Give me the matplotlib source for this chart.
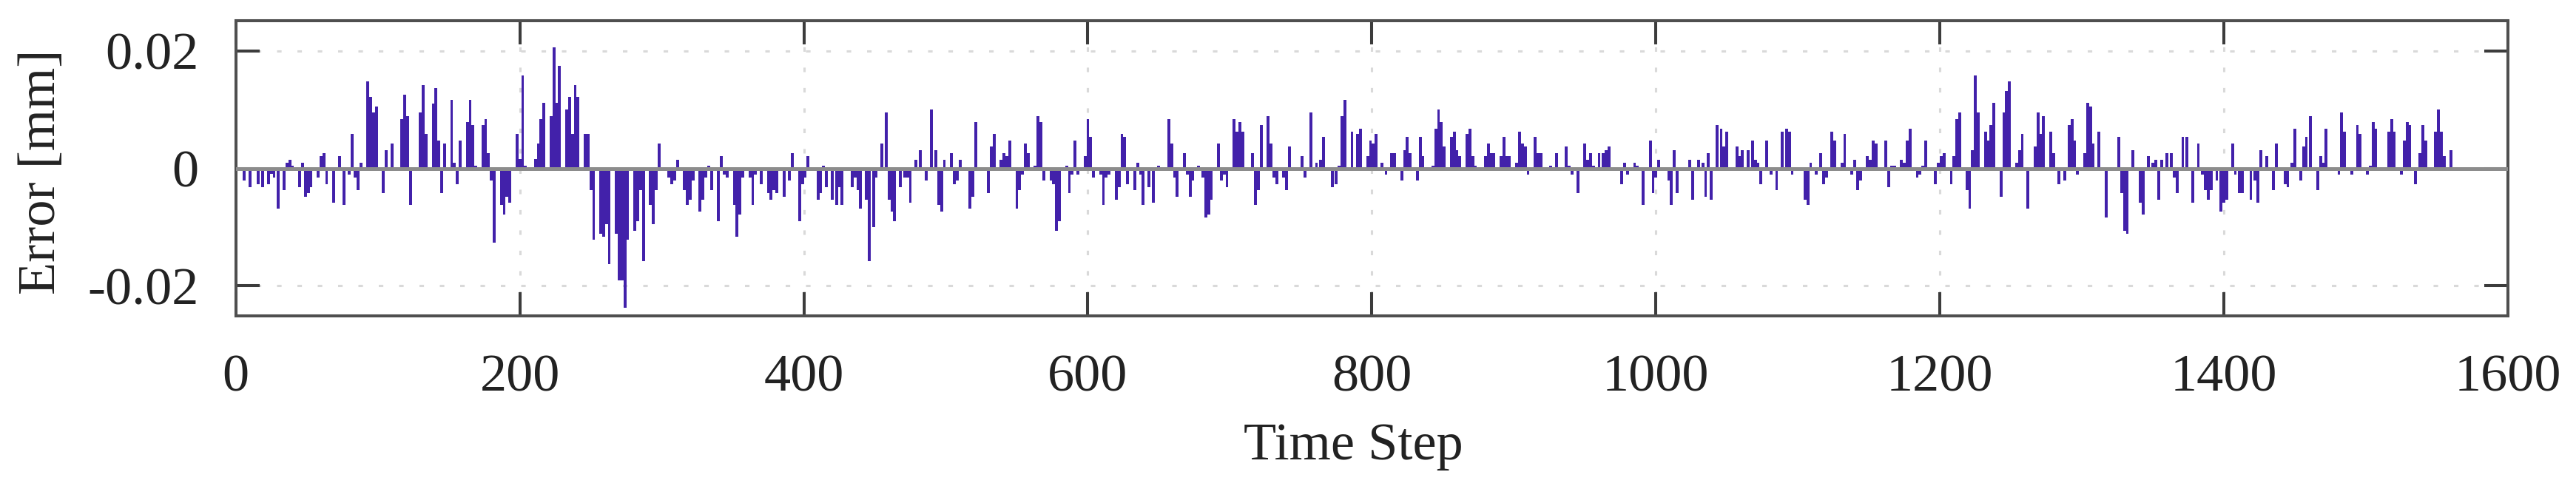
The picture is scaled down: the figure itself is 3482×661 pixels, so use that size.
import numpy as np
import matplotlib
matplotlib.use("Agg")
import matplotlib.pyplot as plt

# ---- data (error in micrometres) ----
time_step = [
    3, 6, 10, 16, 19, 23, 25, 27, 30, 34, 36, 38, 40, 45, 47, 49, 51, 53, 58, 60,
    62, 64, 69, 73, 76, 80, 82, 84, 86, 88, 93, 95, 97, 99, 104, 106, 110, 117, 119, 121,
    123, 128, 130, 132, 134, 139, 141, 143, 145, 147, 152, 154, 156, 158, 163, 165, 167,
    169, 174, 176, 178, 180, 182, 187, 189, 191, 193, 198, 200, 202, 204, 211, 213, 215, 217,
    222, 224, 226, 228, 233, 235, 237, 239, 241, 246, 248, 250, 252, 257, 259, 261, 263,
    268, 270, 272, 274, 276, 281, 283, 285, 287, 292, 294, 296, 298, 305, 307, 309, 311,
    316, 318, 320, 322, 327, 329,
    331, 333, 335, 340, 342, 344, 346, 351, 353, 355, 357, 362, 364, 366, 370, 375, 377, 379,
    381, 386, 390, 392, 397, 399, 401, 403, 405, 410, 412, 414, 416, 420, 423, 425, 427,
    434, 436, 438, 440, 444, 446, 449, 451, 455, 458, 460, 462, 464, 468, 471, 473, 475,
    479, 482, 484, 486, 490,
    493, 495, 497, 499, 504, 506, 508, 510, 517, 519, 521, 528, 530, 532, 534, 539, 541, 543,
    545, 550, 552, 554, 556, 558, 563, 565, 567, 569, 574, 576, 578, 580, 585, 587, 589, 591,
    593, 598, 600, 602, 604, 609, 611, 613, 615, 620, 622, 624, 626, 628, 633, 635, 637, 639,
    643, 646, 650,
    657, 659, 661, 663, 668, 670, 672, 674, 678, 681, 683, 685, 687, 692, 694, 696, 698, 703,
    705, 707, 709, 714, 716, 718, 720, 722, 727, 729, 731, 733, 738, 740, 742, 744, 751, 753,
    757, 761, 764, 766, 772, 775, 777, 779, 781, 786, 790, 792, 797, 799, 801, 803, 807, 810,
    814, 816, 821, 823, 825, 827, 832, 834, 836, 838, 843, 845, 847, 849, 851, 856, 858, 860,
    862, 867, 869, 871, 873, 880, 882, 884, 886, 891, 893, 895, 897, 902, 904, 906, 908, 910,
    915, 917, 919, 926, 930, 932, 937, 939, 941, 943, 945, 950, 952, 954, 956, 960, 963, 965,
    967, 974,
    976, 978, 980, 985, 987, 989, 991, 996, 998, 1000, 1002, 1009, 1011, 1013, 1015, 1020,
    1024, 1026, 1030, 1033, 1035, 1037, 1039, 1043, 1046, 1048, 1050, 1054, 1057, 1059, 1061,
    1065, 1068, 1070, 1072, 1074, 1078, 1081, 1085, 1089, 1092, 1094, 1096, 1105, 1107, 1109,
    1113, 1116, 1118, 1120, 1124, 1126, 1129, 1131, 1133,
    1138, 1140, 1142, 1144, 1149, 1151, 1153, 1155, 1162, 1164, 1166, 1168, 1173, 1175, 1177,
    1179, 1184, 1186, 1188, 1190, 1197, 1199, 1201, 1203, 1208, 1210, 1212, 1214, 1219, 1221,
    1223, 1225, 1227, 1232, 1234, 1236, 1238, 1243, 1245, 1247, 1249, 1254, 1256, 1258, 1262,
    1267, 1269, 1271, 1273, 1278, 1280, 1284, 1288, 1291, 1293, 1295, 1297,
    1302, 1304, 1306, 1308, 1312, 1315, 1317, 1326, 1328, 1330, 1332, 1336, 1341, 1343, 1347,
    1350, 1352, 1354, 1356, 1360, 1363, 1365, 1367, 1371, 1374, 1376, 1378, 1382, 1385, 1387,
    1389, 1391, 1395, 1398, 1400, 1402, 1406, 1408, 1411, 1413, 1419, 1422, 1424, 1426, 1430,
    1432, 1435, 1437, 1441, 1443, 1445, 1448, 1450, 1454, 1456, 1458,
    1461, 1466, 1468, 1470, 1472, 1476, 1479, 1481, 1483, 1485, 1490, 1492, 1494, 1496, 1501,
    1503, 1505, 1507, 1511, 1516, 1518, 1520, 1525, 1527, 1529, 1531, 1535, 1538, 1540, 1542,
    1549, 1551, 1553, 1555, 1560,
]

error_um = [
    -0.4, -2.1, -3.2, -2.65, -3.2, -2.65, -1.0, -1.6, -6.9, -3.7, 1.0, 1.5, 0.5, -3.2, 1.0, -4.8, -4.2, -3.2, -1.6, 2.1,
    2.6, -2.65, -5.8, 2.1, -6.3, -1.05, 5.8, -1.6, -3.7, 1.0, 14.8, 12.1, 9.5, 10.5, -4.2, 3.1, 4.2, 8.4, 12.6, 8.9,
    -6.3, -0.5, 9.5, 14.2, 5.8, 11.0, 13.7, 4.7, -4.2, 4.2, 11.6, 1.0, -2.65, 4.7, 7.9, 11.6, 7.4,
    0.5, 7.4, 8.4, 2.6, -2.1, -12.7, -6.3, -7.9, -4.8, -5.8, 5.8, 1.6, 15.8, 0.5, 1.6, 4.2, 8.4, 11.1,
    8.9, 20.6, 11.1, 17.4, 10.0, 12.1, 5.8, 14.2, 12.1, 5.8, 5.8, -3.7, -12.1, -11.1, -11.6, -9.5, -16.3,
    -11.1, -19.1, -19.1, -23.8, -12.1, -10.6, -9.0, -3.7, -15.8, -6.3, -9.5, -3.7, 4.2, -1.6, -2.65, -2.1, 1.5,
    -3.7, -6.3, -5.3, -2.1, -7.4, -5.3,
    -1.6, 0.5, -3.7, -9.0, 2.1, -1.05, -1.6, -6.3, -11.6, -7.9, -1.6, -1.6, -6.3, -1.05, -2.65, -4.2, -5.3, -3.7,
    -4.2, -4.8, -2.1, 2.6, -9.0, -2.65, -1.6, 2.1, -0.5, -5.3, -4.2, 0.5, -3.2, -5.3, -6.3, -3.2, -6.3,
    -3.2, -1.6, -3.7, -6.9, -5.3, -15.8, -10.0, -1.6, 4.2, 9.5, -5.3, -7.4, -9.0, -3.2, -1.6, -1.6, -5.8,
    1.5, 3.1, -0.5, -2.1, 10.0,
    3.1, -6.3, -7.4, 1.5, 2.6, -2.65, -2.1, 1.5, -6.9, -4.8, 7.9, -0.5, -4.2, 3.7, 5.8, 1.5, 2.6, 2.1,
    4.7, -6.9, -3.7, -1.05, 4.2, 2.6, 0.5, 8.9, 7.9, -2.1, -2.1, -2.65, -10.6, -9.0, 0.5, -4.2, -1.05, 4.7,
    -1.05, 2.1, 8.4, 5.3, -1.6, -1.05, -6.3, -1.6, -1.05, -5.3, -3.2, 5.8, 5.3, -2.65, -3.7, 1.0, -1.05, -6.3,
    -3.2, -5.8, 0.5,
    8.4, 4.2, -1.6, -4.8, 2.6, -1.05, -4.8, -2.1, 0.5, -1.6, -8.4, -7.9, -5.3, 4.2, -2.1, -1.05, -3.2, 8.4,
    6.3, 7.9, 6.3, -0.5, 2.6, -6.3, -3.7, 7.4, 8.9, 4.2, -1.6, -2.65, -1.6, -3.7, 3.7, -0.5, 2.1, -1.6,
    9.5, 1.0, 1.5, 5.3, -3.2, -2.65, 0.5, 8.9, 11.6, 6.3, 5.8, 6.8, 2.1, 4.7, 4.2, 5.8, 1.0, -1.05,
    2.6, 2.6, -2.1, 3.1, 5.3, 2.6, -2.1, 5.3, 2.1, -0.5, 0.5, 6.8, 10.0, 7.9, 3.7, 5.3, 6.3, 3.1,
    2.1, 5.8, 6.8, 2.1, 0.5, 2.1, 4.2, 2.6, 2.6, 2.1, 5.3, 2.1, 2.1, 1.0, 6.3, 4.2, 3.7, -1.05,
    5.3, 2.6, 2.6, 0.5, 2.6, -0.5, 3.7, 0.5, -1.05, -0.5, -4.2, 4.2, 1.5, 2.6, 0.5, 2.6, 2.6, 3.1,
    3.7, -0.5,
    -2.65, 1.0, -1.05, 1.0, 0.5, -0.5, -6.3, 4.7, -4.2, -1.6, 1.5, -2.1, -6.3, 3.1, -4.2, -0.5,
    1.5, -5.3, 1.5, 1.0, -4.8, 2.6, -5.3, 7.4, 6.8, 3.7, 6.3, -0.5, 3.7, 2.1, 3.1,
    3.1, 4.7, 1.5, 1.0, -2.65, 4.7, -1.05, -3.7, 6.3, 6.8, 6.3, -1.05, -5.3, -6.3, 1.0,
    -1.05, 2.6, -2.65, -1.6, 6.3, 4.7, -0.5, 1.0, 5.8,
    -1.05, 1.5, -3.7, -2.1, 2.1, 1.5, 4.7, 4.2, 4.7, -3.2, 0.5, 0.5, 1.5, 1.0, 4.7,
    6.8, -1.6, -1.05, 0.5, 4.7, -2.65, 1.0, 2.1, 2.6, -2.65, 2.1, 8.4, 9.5, -3.7, -6.9,
    3.1, 15.8, 9.5, 6.3, 4.7, 7.4, 11.1, -4.8, 9.5, 13.2, 14.8, 1.0, 3.1, 5.8, -6.9,
    3.7, 9.5, 5.8, 8.9, 6.3, 2.6, -2.65, -2.1, 7.4, 8.4, 4.7, -1.05,
    2.6, 11.1, 10.5, 4.2, 6.3, -0.5, -8.4, 5.3, -4.2, -10.6, -11.1, 3.1, -5.8, -7.9, 2.1,
    1.0, 1.5, -5.3, 1.5, 2.6, 2.6, -1.6, -4.2, 5.3, 5.3, -0.5, -5.8, 4.2, -1.05, -3.7,
    -5.3, -3.7, -2.1, -7.4, -5.8, -5.3, 4.2, -1.05, -4.2, -4.2, -5.3, -2.1, -5.8, 3.1, 2.1,
    -0.5, -3.7, 4.2, -0.5, -2.65, -3.2, 1.0, 6.8, -2.1, 3.7, 5.3,
    8.9, -3.7, 2.1, 1.0, 6.8, -0.5, -0.5, -1.05, 9.5, 6.3, -1.05, -0.5, 7.4, 5.8, -1.05,
    0.5, 7.9, 6.8, -0.5, 6.3, 8.4, 6.3, -1.05, 4.7, 7.9, 7.4, -2.65, 2.6, 7.4, 4.7,
    6.3, 10.0, 6.3, 2.1, 3.1,
]

x_ticks = [0, 200, 400, 600, 800, 1000, 1200, 1400, 1600]
x_tick_labels = ["0", "200", "400", "600", "800", "1000", "1200", "1400", "1600"]
y_ticks = [-0.02, 0.0, 0.02]
y_tick_labels = ["-0.02", "0", "0.02"]

steps = np.asarray(time_step, dtype=float)
err = np.asarray(error_um, dtype=float) / 1000.0  # -> mm

# ---- figure ----
plt.rcParams["font.family"] = ["Liberation Serif", "DejaVu Serif"]
DPI = 100
fig = plt.figure(figsize=(3482 / DPI, 661 / DPI), dpi=DPI)
ax = fig.add_axes([318.7 / 3482, (661 - 426.7) / 661,
                   (3390 - 318.7) / 3482, (426.7 - 28.3) / 661])

bar_color = "#4221aa"
ax.bar(steps, err, width=2.0, color=bar_color, linewidth=0, align="center", zorder=2)
ax.axhline(0, color="#8c8c8c", linewidth=3.6, zorder=3)

ax.set_xlim(0, 1600)
ax.set_ylim(-0.0251, 0.0251)
ax.set_xticks(x_ticks)
ax.set_xticklabels(x_tick_labels)
ax.set_yticks(y_ticks)
ax.set_yticklabels(y_tick_labels)

ax.grid(True, color="#d9d9d9", linestyle=(0, (2, 7)), linewidth=2.2, zorder=0)
ax.set_axisbelow(True)

ax.tick_params(axis="both", which="major", direction="in", length=23, width=2.9,
               color="#3c3c3c", labelsize=52, labelcolor="#222222",
               top=True, right=True)
ax.tick_params(axis="x", pad=37)
ax.tick_params(axis="y", pad=36)

for s in ax.spines.values():
    s.set_color("#4f4f4f")
    s.set_linewidth(2.9)

ax.set_xlabel("Time Step", fontsize=52, color="#222222", va="center")
ax.xaxis.set_label_coords(0.492, -0.445)
ax.set_ylabel("Error [mm]", fontsize=52, color="#222222", va="center")
ax.yaxis.set_label_coords(-0.0855, 0.489)

fig.savefig("out.png", dpi=DPI, facecolor="white")
